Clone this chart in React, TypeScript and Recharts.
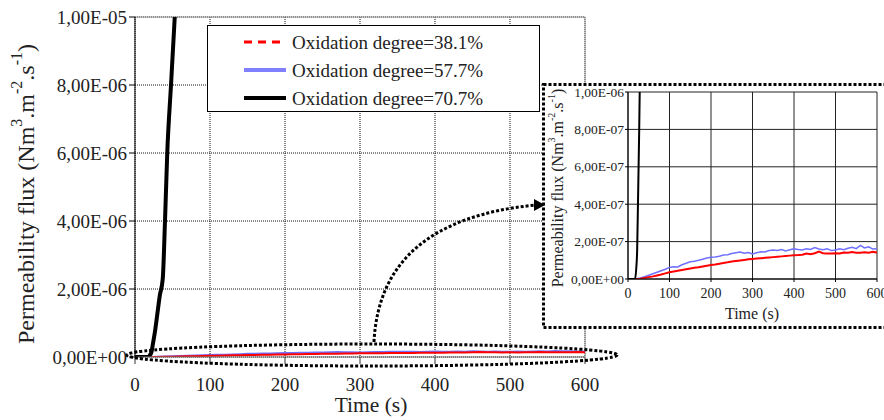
import { LineChart, Line, XAxis, YAxis, CartesianGrid, Legend, Label, ReferenceLine } from "recharts";

const FONT = '"Liberation Serif", "Times New Roman", serif';

// flux values are in units of 1e-7 Nm3.m-2.s-1
const xTicks = [0, 100, 200, 300, 400, 500, 600];
const mainYTicks = [0, 20, 40, 60, 80, 100];
const insetYTicks = [0, 2, 4, 6, 8, 10];

const seriesNames = ["Oxidation degree=38.1%", "Oxidation degree=57.7%", "Oxidation degree=70.7%"];

const timeGrid = [
  0, 10, 20, 30, 40, 50, 60, 70, 80, 90, 100, 110, 120, 130, 140, 150, 160, 170, 180, 190, 200,
  210, 220, 230, 240, 250, 260, 270, 280, 290, 300, 310, 320, 330, 340, 350, 360, 370, 380, 390, 400,
  410, 420, 430, 440, 450, 460, 470, 480, 490, 500, 510, 520, 530, 540, 550, 560, 570, 580, 590, 600,
];

const flux381 = [
  0, 0, 0, 0.02, 0.06, 0.1, 0.14, 0.19, 0.24, 0.3, 0.36, 0.4, 0.44, 0.48, 0.52, 0.56, 0.6, 0.63, 0.67, 0.71, 0.75,
  0.78, 0.82, 0.86, 0.89, 0.93, 0.96, 0.99, 1.02, 1.05, 1.07, 1.09, 1.11, 1.13, 1.15, 1.17, 1.19, 1.21, 1.23, 1.25, 1.27,
  1.28, 1.3, 1.36, 1.32, 1.38, 1.47, 1.38, 1.37, 1.36, 1.38, 1.36, 1.42, 1.4, 1.44, 1.41, 1.4, 1.43, 1.41, 1.45, 1.42,
];

const flux577 = [
  0, 0, 0.01, 0.06, 0.12, 0.2, 0.28, 0.36, 0.44, 0.52, 0.62, 0.66, 0.64, 0.76, 0.84, 0.92, 0.95, 1.0, 1.06, 1.12, 1.16,
  1.18, 1.22, 1.28, 1.3, 1.36, 1.4, 1.44, 1.38, 1.42, 1.34, 1.4, 1.46, 1.44, 1.52, 1.55, 1.52, 1.58, 1.5, 1.56, 1.62,
  1.58, 1.55, 1.62, 1.58, 1.68, 1.6, 1.56, 1.62, 1.52, 1.55, 1.62, 1.56, 1.64, 1.7, 1.62, 1.8, 1.66, 1.72, 1.6, 1.62,
];

const time707 = [0, 10, 17, 20, 22, 24, 27, 30, 33, 37, 40, 43, 48, 53, 58];
const flux707 = [0, 0, 0, 0.6, 1.5, 4, 8, 13, 18, 23, 40, 60, 80, 100, 120];

const lowRows = timeGrid.map((t, i) => ({ t, a: flux381[i], b: flux577[i] }));
const blackRows = time707.map((t, i) => ({ t, c: flux707[i] }));

function sci(v: number) {
  const val = v * 1e-7;
  if (val === 0) return "0,00E+00";
  const e = Math.floor(Math.log10(val) + 1e-9);
  const m = val / Math.pow(10, e);
  return m.toFixed(2).replace(".", ",") + "E" + (e < 0 ? "-" : "+") + String(Math.abs(e)).padStart(2, "0");
}

const makeTick = (size: number, anchor: "end" | "middle", fmt: (v: number) => string) => (props: any) => {
  const { x, y, payload } = props;
  return (
    <text x={x} y={y} textAnchor={anchor} dominantBaseline="central" fontFamily={FONT} fontSize={size} fill="#222">
      {fmt(payload.value)}
    </text>
  );
};

function FluxTitle({ x, cy, size }: { x: number; cy: number; size: number }) {
  const sup = Math.round(size * 0.65);
  const up = size * 0.4;
  return (
    <text
      x={x}
      y={cy}
      transform={`rotate(-90, ${x}, ${cy})`}
      textAnchor="middle"
      dominantBaseline="central"
      fontFamily={FONT}
      fontSize={size}
      fill="#222"
    >
      Permeability flux (Nm
      <tspan dy={-up} fontSize={sup}>3</tspan>
      <tspan dy={up}>.m</tspan>
      <tspan dy={-up} fontSize={sup}>-2</tspan>
      <tspan dy={up}>.s</tspan>
      <tspan dy={-up} fontSize={sup}>-1</tspan>
      <tspan dy={up}>)</tspan>
    </text>
  );
}

function TimeTitle({ x, y, size }: { x: number; y: number; size: number }) {
  return (
    <text x={x} y={y} textAnchor="middle" dominantBaseline="central" fontFamily={FONT} fontSize={size} fill="#222">
      Time (s)
    </text>
  );
}

function LegendBox() {
  const rows = [
    { color: "#ff0000", width: 3, dash: "8 6" },
    { color: "#8080ff", width: 4, dash: undefined },
    { color: "#000000", width: 4, dash: undefined },
  ];
  return (
    <div style={{ width: 333, height: 87, border: "1.5px solid #000", background: "#fff", boxSizing: "border-box" }}>
      <svg width={330} height={84}>
        {rows.map((r, i) => (
          <g key={i}>
            <line x1={36} x2={78} y1={16 + i * 28} y2={16 + i * 28} stroke={r.color} strokeWidth={r.width} strokeDasharray={r.dash} />
            <text x={84} y={16 + i * 28} dominantBaseline="central" fontFamily={FONT} fontSize={19} fill="#222">
              {seriesNames[i]}
            </text>
          </g>
        ))}
      </svg>
    </div>
  );
}

export default function App() {
  return (
    <div
      style={{
        position: "fixed",
        left: 0,
        top: 0,
        width: 884,
        height: 420,
        overflow: "hidden",
        background: "#fff",
        fontFamily: FONT,
      }}
    >
      <LineChart width={884} height={420} data={lowRows} margin={{ top: 17, right: 299, bottom: 33, left: 0 }}>
        <CartesianGrid stroke="#111" strokeDasharray="1 1" />
        <XAxis
          type="number"
          dataKey="t"
          domain={[0, 600]}
          ticks={xTicks}
          interval={0}
          allowDataOverflow
          height={30}
          tick={makeTick(19, "middle", String)}
          tickSize={7}
          tickMargin={20}
          stroke="#777"
          tickLine={{ stroke: "#333" }}
        >
          <Label content={() => <TimeTitle x={371} y={405} size={21.5} />} />
        </XAxis>
        <YAxis
          type="number"
          domain={[0, 100]}
          ticks={mainYTicks}
          interval={0}
          allowDataOverflow
          width={135}
          tick={makeTick(19, "end", sci)}
          tickSize={6}
          tickMargin={2}
          stroke="#000"
        >
          <Label content={() => <FluxTitle x={26} cy={194} size={24} />} />
        </YAxis>
        <ReferenceLine y={100} stroke="#999" />
        <ReferenceLine x={600} stroke="#999" />
        <Line dataKey="b" stroke="#7070ff" strokeWidth={2} dot={false} isAnimationActive={false} />
        <Line dataKey="a" stroke="#ff0000" strokeWidth={2} dot={false} isAnimationActive={false} />
        <Line
          type="monotone"
          data={blackRows}
          dataKey="c"
          stroke="#000"
          strokeWidth={4}
          dot={false}
          isAnimationActive={false}
        />
        <Legend
          layout="horizontal"
          verticalAlign="middle"
          align="center"
          content={() => <LegendBox />}
          wrapperStyle={{ position: "absolute", left: 207, top: 25, width: 333, height: 87 }}
        />
      </LineChart>

      <div style={{ position: "absolute", left: 542, top: 83, width: 350, height: 245, background: "#fff" }}>
        <LineChart width={350} height={245} data={lowRows} margin={{ top: 9, right: 15, bottom: 19, left: 0 }}>
          <CartesianGrid stroke="#222" />
          <XAxis
            type="number"
            dataKey="t"
            domain={[0, 600]}
            ticks={xTicks}
            interval={0}
            allowDataOverflow
            height={30}
            tick={makeTick(14, "middle", String)}
            tickSize={3}
            tickMargin={11}
            stroke="#000"
          >
            <Label content={() => <TimeTitle x={210} y={230} size={16} />} />
          </XAxis>
          <YAxis
            type="number"
            domain={[0, 10]}
            ticks={insetYTicks}
            interval={0}
            allowDataOverflow
            width={86}
            tick={makeTick(13.5, "end", sci)}
            tickSize={3}
            tickMargin={1}
            stroke="#000"
          >
            <Label content={() => <FluxTitle x={15} cy={105} size={16} />} />
          </YAxis>
          <Line dataKey="b" stroke="#7070ff" strokeWidth={1.5} dot={false} isAnimationActive={false} />
          <Line dataKey="a" stroke="#ff0000" strokeWidth={2} dot={false} isAnimationActive={false} />
          <Line
            type="monotone"
            data={blackRows}
            dataKey="c"
            stroke="#000"
            strokeWidth={2}
            dot={false}
            isAnimationActive={false}
          />
        </LineChart>
      </div>

      {/* annotations: zoom ellipse, arrow and inset frame */}
      <svg width={884} height={420} style={{ position: "absolute", left: 0, top: 0, pointerEvents: "none" }}>
        <ellipse cx={372} cy={355} rx={245} ry={11} fill="none" stroke="#000" strokeWidth={3} strokeDasharray="3 2" />
        <path d="M 374 342 Q 380 220 536 205" fill="none" stroke="#000" strokeWidth={3} strokeDasharray="3 2" />
        <polygon points="545,205 534,199 534,211" fill="#000" />
        <rect x={543.5} y={84.5} width={360} height={243} fill="none" stroke="#000" strokeWidth={3} strokeDasharray="3 2" />
      </svg>
    </div>
  );
}
